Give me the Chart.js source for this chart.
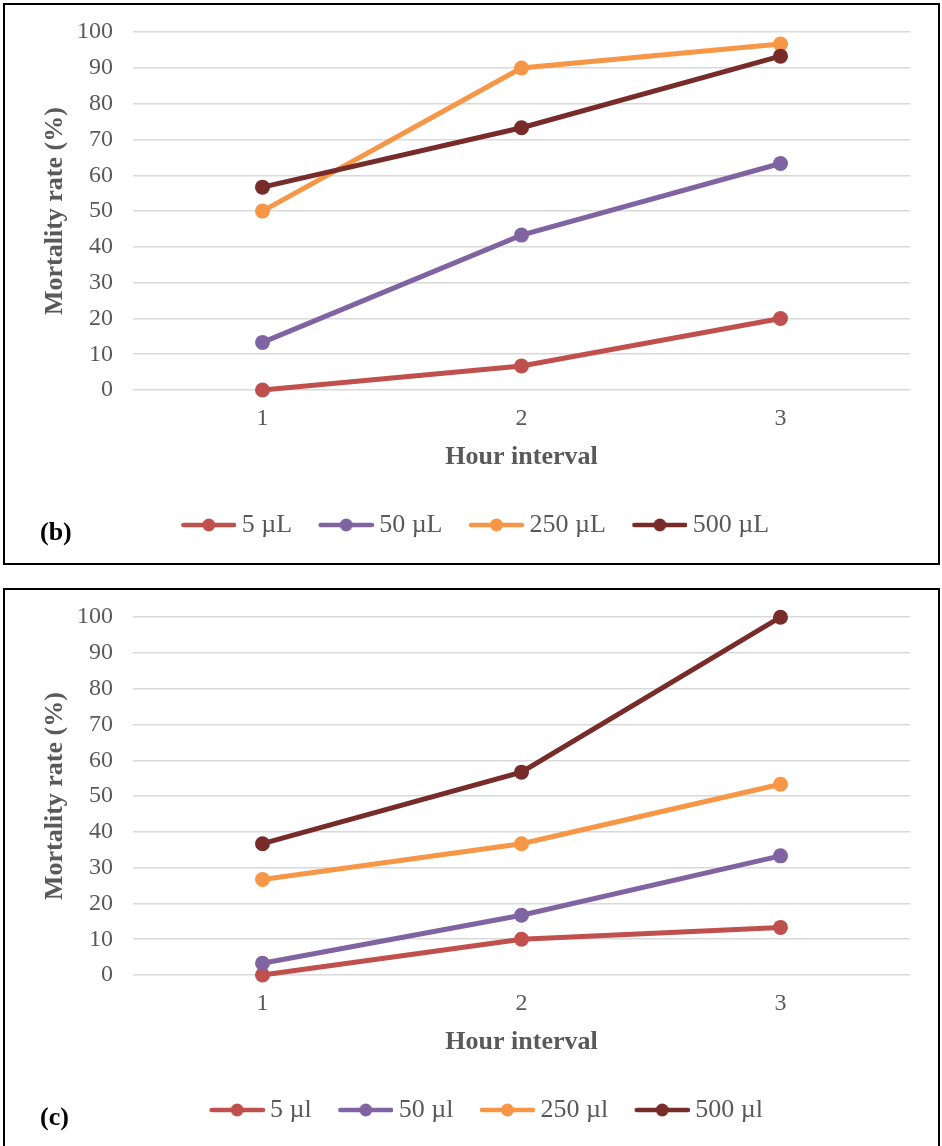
<!DOCTYPE html>
<html>
<head>
<meta charset="utf-8">
<script src="https://cdn.jsdelivr.net/npm/chart.js@4/dist/chart.umd.min.js"></script>
<style>
  body { margin: 0; background: #fff; width: 942px; height: 1146px; overflow: hidden; position: relative; }
  .panel { position: absolute; left: 3px; width: 937px; height: 562px; border: 2px solid #000; box-sizing: border-box; background: #fff; }
  .panel canvas { position: absolute; left: 0; top: 0; }
  .tag { position: absolute; left: 35px; top: 514px; font: bold 26px/26px "Liberation Serif", serif; color: #000; }
</style>
</head>
<body>
<div class="panel" style="top:3px"><canvas id="chart-b" width="933" height="558"></canvas><div class="tag">(b)</div></div>
<div class="panel" style="top:588px"><canvas id="chart-c" width="933" height="558"></canvas><div class="tag">(c)</div></div>
<script>
// hour interval categories
const hours = ['1', '2', '3'];

// panel (b) mortality rate (%)
const b5 = [0, 6.7, 20];
const b50 = [13.3, 43.3, 63.3];
const b250 = [50, 90, 96.7];
const b500 = [56.7, 73.3, 93.3];
const namesB = ['5 µL', '50 µL', '250 µL', '500 µL'];

// panel (c) mortality rate (%)
const c5 = [0, 10, 13.3];
const c50 = [3.3, 16.7, 33.3];
const c250 = [26.7, 36.7, 53.3];
const c500 = [36.7, 56.7, 100];
const namesC = ['5 µl', '50 µl', '250 µl', '500 µl'];

const colors = ['#C0504D', '#8064A2', '#F79646', '#772C2A'];
const textColor = '#595959';
const serif = '"Liberation Serif", "Times New Roman", serif';

// legend marker: line with a dot, blank space on the left works as item gap
const legendIcon = color => {
  const c = document.createElement('canvas');
  c.width = 79;
  c.height = 16;
  const ctx = c.getContext('2d');
  ctx.strokeStyle = color;
  ctx.lineWidth = 4.5;
  ctx.lineCap = 'round';
  ctx.beginPath();
  ctx.moveTo(26, 8);
  ctx.lineTo(77, 8);
  ctx.stroke();
  ctx.fillStyle = color;
  ctx.beginPath();
  ctx.arc(51.5, 8, 6.5, 0, Math.PI * 2);
  ctx.fill();
  return c;
};

// nudge the legend row sideways (the legend is not centred exactly in the original)
const legendShift = {
  id: 'legendShift',
  afterLayout(chart, args, opts) {
    chart.legend.left += opts.dx;
    chart.legend.right += opts.dx;
  }
};

const makeChart = (id, names, series, dx) => {
  const ctx = document.getElementById(id);
  return new Chart(ctx, {
    type: 'line',
    data: {
      labels: hours,
      datasets: series.map((s, i) => ({
        label: names[i],
        data: s,
        borderColor: colors[i],
        backgroundColor: colors[i],
        pointBackgroundColor: colors[i],
        pointBorderWidth: 0,
        pointRadius: 7.5,
        pointHoverRadius: 7.5,
        borderWidth: 5,
        tension: 0,
        clip: false,
        order: series.length - i
      }))
    },
    plugins: [legendShift],
    options: {
      responsive: false,
      animation: false,
      layout: { padding: { left: 33, right: 28, top: 10, bottom: 15 } },
      scales: {
        x: {
          offset: true,
          grid: { display: false, drawTicks: false },
          border: { display: false },
          ticks: { color: textColor, font: { family: serif, size: 24, lineHeight: 1 }, padding: 17 },
          title: {
            display: true,
            text: 'Hour interval',
            color: textColor,
            font: { family: serif, size: 26, weight: 'bold', lineHeight: 1 },
            padding: { top: -4, bottom: 32 }
          }
        },
        y: {
          min: 0,
          max: 100,
          grid: { color: '#d9d9d9', lineWidth: 1.5, drawTicks: false },
          border: { display: false },
          ticks: { stepSize: 10, color: textColor, font: { family: serif, size: 24, lineHeight: 0.6 }, padding: 20 },
          title: {
            display: true,
            text: 'Mortality rate (%)',
            color: textColor,
            font: { family: serif, size: 26, weight: 'bold', lineHeight: 1 },
            padding: { top: 4, bottom: -11 }
          }
        }
      },
      plugins: {
        tooltip: { enabled: false },
        legendShift: { dx: dx },
        legend: {
          position: 'bottom',
          labels: {
            usePointStyle: true,
            pointStyleWidth: 64,
            padding: 10,
            color: textColor,
            font: { family: serif, size: 26 },
            generateLabels: chart => Chart.defaults.plugins.legend.labels.generateLabels(chart)
              .sort((a, b) => a.datasetIndex - b.datasetIndex)
              .map(l => Object.assign(l, { pointStyle: legendIcon(colors[l.datasetIndex]) }))
          }
        }
      }
    }
  });
};

makeChart('chart-b', namesB, [b5, b50, b250, b500], -7);
makeChart('chart-c', namesC, [c5, c50, c250, c500], 4);
</script>
</body>
</html>
